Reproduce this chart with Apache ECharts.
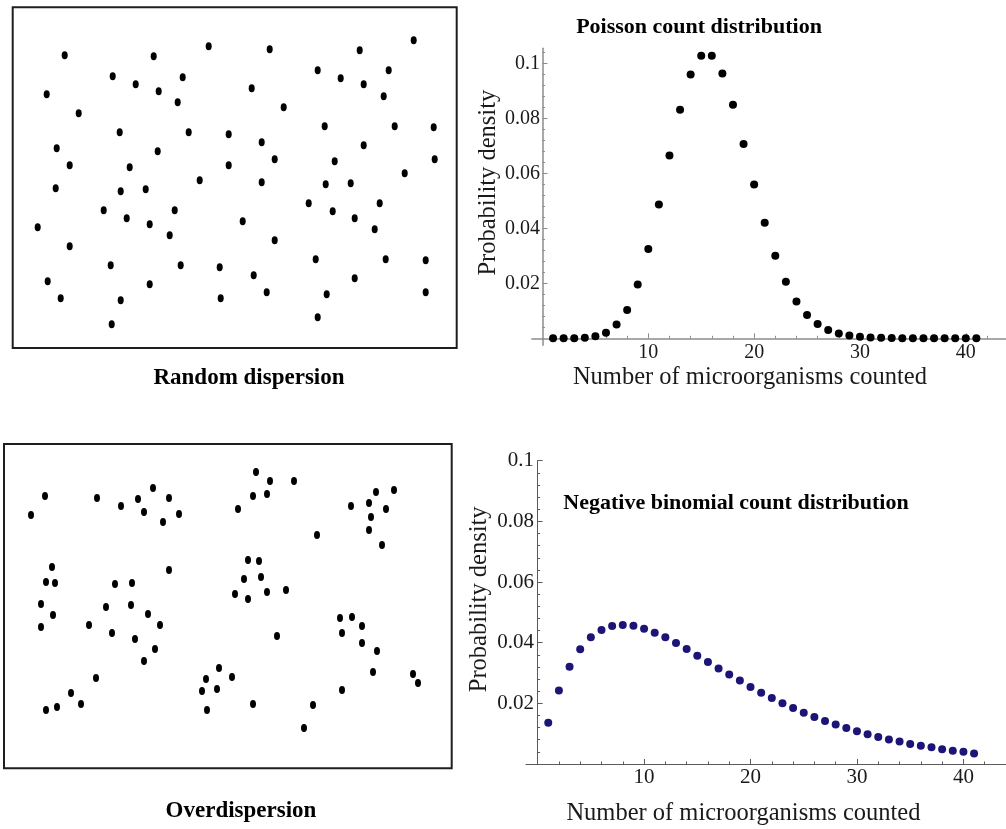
<!DOCTYPE html>
<html>
<head>
  <meta charset="utf-8">
  <title>Dispersion</title>
  <script src="https://cdn.jsdelivr.net/npm/echarts@6/dist/echarts.min.js"></script>
  <style>
    html, body { margin: 0; padding: 0; background: #fff; }
    #main { width: 1006px; height: 829px; }
  </style>
</head>
<body>
<div id="main"></div>
<script>
  // positions of organisms inside each sample field (field units, y downwards)
  var randomPoints = [
    [52, 48], [141, 49], [196, 39], [257, 42], [347, 43], [401, 33],
    [100, 69], [123, 77], [146, 84], [170, 70], [34, 87], [239, 81], [305, 63], [328, 71], [351, 77], [376, 63], [371, 89],
    [165, 95], [66, 106], [271, 100],
    [107, 125], [176, 125], [216, 127], [312, 119], [382, 119], [421, 120],
    [44, 141], [145, 144], [249, 135], [351, 138],
    [57, 158], [117, 160], [216, 158], [262, 152], [322, 154], [422, 152],
    [43, 181], [108, 184], [133, 182], [187, 173], [249, 175], [313, 177], [338, 176], [392, 166],
    [91, 203], [162, 203], [114, 211], [137, 217], [296, 196], [320, 204], [367, 196], [342, 211],
    [25, 220], [157, 228], [230, 214], [362, 222],
    [57, 239], [262, 233],
    [98, 258], [168, 258], [207, 260], [303, 252], [373, 252], [413, 253],
    [241, 268], [342, 271], [35, 274], [137, 277],
    [48, 291], [108, 293], [208, 291], [254, 285], [314, 287], [413, 285],
    [99, 317], [305, 310]
  ];
  var clumpedPoints = [
    [27, 71], [41, 52], [93, 54], [117, 62], [134, 55], [149, 44], [140, 68], [165, 54], [159, 78], [175, 70],
    [252, 28], [266, 37], [290, 37], [249, 52], [263, 50], [234, 65],
    [347, 62], [372, 48], [390, 46], [365, 59], [382, 65], [367, 73], [365, 86], [378, 101],
    [313, 91],
    [48, 123], [42, 138], [51, 139], [37, 160], [49, 171], [37, 183],
    [165, 126],
    [111, 140], [128, 139], [102, 163], [127, 161], [144, 170], [156, 181], [85, 181], [108, 189], [131, 195], [151, 205], [140, 217],
    [244, 116], [255, 117], [240, 135], [257, 133], [231, 150], [244, 155], [263, 148], [282, 146],
    [273, 192],
    [336, 174], [348, 173], [358, 182], [338, 189], [358, 199], [373, 207], [369, 228],
    [409, 230], [414, 239],
    [92, 234], [67, 249], [77, 260], [53, 263], [42, 266],
    [215, 224], [202, 235], [228, 233], [198, 247], [213, 245], [203, 266], [249, 260],
    [338, 246], [309, 261], [300, 284]
  ];

  // counts 1..41 and the two densities
  var counts = [1, 2, 3, 4, 5, 6, 7, 8, 9, 10, 11, 12, 13, 14, 15, 16, 17, 18, 19, 20,
    21, 22, 23, 24, 25, 26, 27, 28, 29, 30, 31, 32, 33, 34, 35, 36, 37, 38, 39, 40, 41];
  var poissonDensity = [0, 0, 0, 0.0002, 0.0008, 0.002, 0.005, 0.0103, 0.0196, 0.0325,
    0.0487, 0.0665, 0.0831, 0.0959, 0.1028, 0.1028, 0.0963, 0.0849, 0.0707, 0.0559,
    0.042, 0.030, 0.0206, 0.0134, 0.0085, 0.0052, 0.003, 0.0018, 0.001, 0.0006,
    0.0003, 0.0002, 0.0001, 0, 0, 0, 0, 0, 0, 0, 0];
  var negBinDensity = [0.0136, 0.0242, 0.0321, 0.0378, 0.0418, 0.0442, 0.0455, 0.0458, 0.0456, 0.0446,
    0.0433, 0.0418, 0.0399, 0.0379, 0.0357, 0.0336, 0.0315, 0.0295, 0.0275, 0.0254,
    0.0235, 0.0218, 0.02, 0.0185, 0.0169, 0.0155, 0.0142, 0.013, 0.0119, 0.0108,
    0.0098, 0.0089, 0.0081, 0.0074, 0.0066, 0.006, 0.0055, 0.0049, 0.0044, 0.004, 0.0035];

  var xTicks = [10, 20, 30, 40];
  var xMinorTicks = [2, 4, 6, 8, 12, 14, 16, 18, 22, 24, 26, 28, 32, 34, 36, 38, 42];
  var yTicks = [0.02, 0.04, 0.06, 0.08, 0.1];
  var yMinorTicks = [0.004, 0.008, 0.012, 0.016, 0.024, 0.028, 0.032, 0.036, 0.044, 0.048, 0.052, 0.056,
    0.064, 0.068, 0.072, 0.076, 0.084, 0.088, 0.092, 0.096, 0.104];

  var serif = 'Liberation Serif';

  function pairs(xs, ys) {
    var out = [];
    for (var i = 0; i < xs.length; i++) out.push([xs[i], ys[i]]);
    return out;
  }

  // hidden axes for the two sample fields
  function fieldAxis(idx, max, inverse) {
    return { type: 'value', gridIndex: idx, min: 0, max: max, inverse: inverse, show: false };
  }

  // main axes of a density plot
  function mainXAxis(idx, min, max, lineColor, lineWidth, labelSize, labelMargin, namePad, nameGap) {
    return {
      type: 'value', gridIndex: idx, min: min, max: max,
      axisLine: { onZero: true, lineStyle: { color: lineColor, width: lineWidth } },
      axisTick: { inside: true, length: 5, customValues: xTicks, lineStyle: { color: lineColor } },
      axisLabel: { customValues: xTicks, margin: labelMargin, color: '#1a1a1a', fontFamily: serif, fontSize: labelSize },
      splitLine: { show: false },
      name: 'Number of microorganisms counted', nameLocation: 'middle', nameGap: nameGap,
      nameTextStyle: { fontFamily: serif, fontSize: 24.5, color: '#1a1a1a', padding: namePad }
    };
  }
  function mainYAxis(idx, min, max, lineColor, lineWidth, labelSize, nameGap, namePad) {
    return {
      type: 'value', gridIndex: idx, min: min, max: max,
      axisLine: { onZero: true, lineStyle: { color: lineColor, width: lineWidth } },
      axisTick: { inside: true, length: 5, customValues: yTicks, lineStyle: { color: lineColor } },
      axisLabel: {
        customValues: yTicks, margin: -8, color: '#1a1a1a', fontFamily: serif, fontSize: labelSize,
        formatter: function (v) { return String(+v.toFixed(3)); }
      },
      splitLine: { show: false },
      name: 'Probability density', nameLocation: 'middle', nameGap: nameGap,
      nameTextStyle: { fontFamily: serif, fontSize: 24.5, color: '#1a1a1a', padding: namePad }
    };
  }
  // overlay axes that only carry the minor ticks
  function minorXAxis(idx, min, max, lineColor) {
    return {
      type: 'value', gridIndex: idx, min: min, max: max,
      axisLine: { show: false, onZero: true },
      axisTick: { inside: true, length: 2.5, customValues: xMinorTicks, lineStyle: { color: lineColor } },
      axisLabel: { show: false }, splitLine: { show: false }
    };
  }
  function minorYAxis(idx, min, max, lineColor) {
    return {
      type: 'value', gridIndex: idx, min: min, max: max,
      axisLine: { show: false, onZero: true },
      axisTick: { inside: true, length: 2.5, customValues: yMinorTicks, lineStyle: { color: lineColor } },
      axisLabel: { show: false }, splitLine: { show: false }
    };
  }

  var plotTitle = { fontFamily: serif, fontWeight: 'bold', fontSize: 22, color: '#000' };
  var fieldTitle = { fontFamily: serif, fontWeight: 'bold', fontSize: 23, color: '#000' };

  var chart = echarts.init(document.getElementById('main'));
  var option = {
    backgroundColor: '#fff',
    animation: false,
    title: [
      { text: 'Poisson count distribution', left: 694, top: 11, textAlign: 'center', textStyle: plotTitle },
      { text: 'Negative binomial count distribution', left: 731, top: 487, textAlign: 'center', textStyle: plotTitle },
      { text: 'Random dispersion', left: 244, top: 362, textAlign: 'center', textStyle: fieldTitle },
      { text: 'Overdispersion', left: 236, top: 795, textAlign: 'center', textStyle: fieldTitle }
    ],
    grid: [
      { left: 12.7, top: 7.3, width: 444, height: 340.7, show: true, borderWidth: 2, borderColor: '#1e1e1e' },
      { left: 4, top: 444, width: 447.7, height: 324.3, show: true, borderWidth: 2, borderColor: '#1e1e1e' },
      { left: 531.9, top: 48.2, width: 474.1, height: 297 },
      { left: 531.9, top: 48.2, width: 474.1, height: 297 },
      { left: 525.9, top: 460.7, width: 480.1, height: 303.3 },
      { left: 525.9, top: 460.7, width: 480.1, height: 303.3 }
    ],
    xAxis: [
      fieldAxis(0, 444, false),
      fieldAxis(1, 447.7, false),
      mainXAxis(2, -1, 43.8, '#8c8c8c', 1.5, 20, -2, [0, 38, 0, 0], 20),
      minorXAxis(3, -1, 43.8, '#8c8c8c'),
      mainXAxis(4, -1.1, 44, '#5a5a5a', 1, 21, 3, [0, 45, 0, 0], 37),
      minorXAxis(5, -1.1, 44, '#5a5a5a')
    ],
    yAxis: [
      fieldAxis(0, 340.7, true),
      fieldAxis(1, 324.3, true),
      mainYAxis(2, -0.0025, 0.1055, '#8c8c8c', 1.5, 20, 31, [0, 0, 0, 28]),
      minorYAxis(3, -0.0025, 0.1055, '#8c8c8c'),
      mainYAxis(4, 0, 0.1, '#5a5a5a', 1, 21, 34, [0, 0, 0, 26]),
      minorYAxis(5, 0, 0.1, '#5a5a5a')
    ],
    series: [
      {
        type: 'scatter', xAxisIndex: 0, yAxisIndex: 0, data: randomPoints,
        symbol: 'circle', symbolSize: [6, 8], itemStyle: { color: '#000', opacity: 1 }
      },
      {
        type: 'scatter', xAxisIndex: 1, yAxisIndex: 1, data: clumpedPoints,
        symbol: 'circle', symbolSize: [6, 8], itemStyle: { color: '#000', opacity: 1 }
      },
      {
        type: 'scatter', xAxisIndex: 2, yAxisIndex: 2, data: pairs(counts, poissonDensity),
        symbol: 'circle', symbolSize: 8, itemStyle: { color: '#000', opacity: 1 }
      },
      {
        type: 'scatter', xAxisIndex: 4, yAxisIndex: 4, data: pairs(counts, negBinDensity),
        symbol: 'circle', symbolSize: 8, itemStyle: { color: '#1c1577', opacity: 1 }
      }
    ]
  };
  chart.setOption(option);
</script>
</body>
</html>
